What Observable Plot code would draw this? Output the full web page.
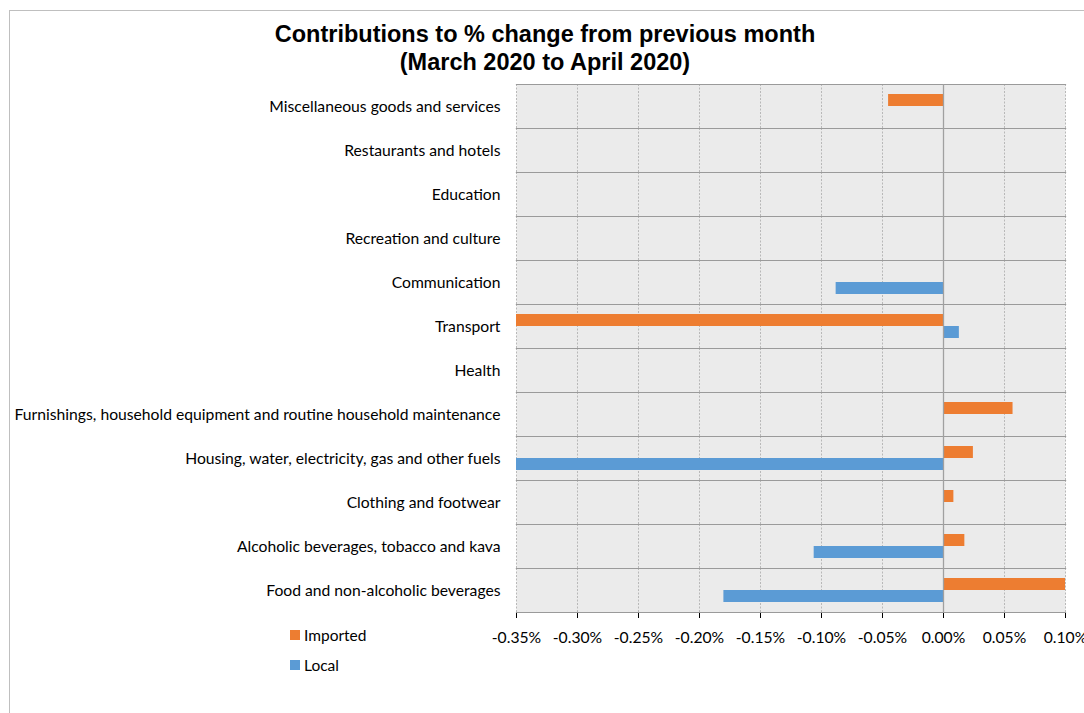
<!DOCTYPE html>
<html>
<head>
<meta charset="utf-8">
<script src="https://cdn.jsdelivr.net/npm/d3@7"></script>
<script src="https://cdn.jsdelivr.net/npm/@observablehq/plot@0.6"></script>
<style>
  html, body { margin: 0; padding: 0; background: #fff; }
  #wrap { position: relative; width: 1084px; height: 713px; overflow: hidden; font-family: Lato, "Liberation Sans", sans-serif; }
  #border { position: absolute; left: 9px; top: 10px; width: 1200px; height: 800px; border-left: 1px solid #bfbfbf; border-top: 1px solid #bfbfbf; }
  #title { position: absolute; left: 0; top: 20px; width: 1090px; text-align: center; font-family: "Liberation Sans", Arial, sans-serif; font-weight: bold; font-size: 23.5px; line-height: 28px; color: #000; }
  #chart { position: absolute; left: 0; top: 0; }
  #legend { position: absolute; left: 290px; top: 620px; font-family: Lato, sans-serif; font-size: 15.5px; color: #000; }
  .item { display: flex; align-items: center; height: 30px; }
  .sw { width: 10px; height: 10px; margin-right: 4px; }
</style>
</head>
<body>
<div id="wrap">
  <div id="border"></div>
  <div id="chart"></div>
  <div id="title">Contributions to % change from previous month<br>(March 2020 to April 2020)</div>
  <div id="legend"></div>
</div>
<script>
const categories = [
  "Miscellaneous goods and services",
  "Restaurants and hotels",
  "Education",
  "Recreation and culture",
  "Communication",
  "Transport",
  "Health",
  "Furnishings, household equipment and routine household maintenance",
  "Housing, water, electricity, gas and other fuels",
  "Clothing and footwear",
  "Alcoholic beverages, tobacco and kava",
  "Food and non-alcoholic beverages"
];
const series = ["Imported", "Local"];
const seriesColors = ["#ed7d31", "#5b9bd5"];
// values in percent (null = no bar)
const imported = [-0.045, null, null, null, null, -0.36, null, 0.057, 0.0245, 0.0085, 0.0175, 0.10];
const local    = [null, null, null, null, -0.088, 0.013, null, null, -0.36, null, -0.106, -0.18];
const xTicks = [-0.35, -0.30, -0.25, -0.20, -0.15, -0.10, -0.05, 0.00, 0.05, 0.10];

const rows = [];
categories.forEach((c, i) => {
  if (imported[i] != null) rows.push({category: c, series: "Imported", value: imported[i]});
  if (local[i] != null) rows.push({category: c, series: "Local", value: local[i]});
});
// one grid entry per category and tick, so that every facet is present
const grid = categories.flatMap(c => xTicks.map(t => ({category: c, tick: t})));

const plot = Plot.plot({
  width: 1084,
  height: 713,
  marginLeft: 516,
  marginRight: 19,
  marginTop: 80,
  marginBottom: 97,
  style: {fontFamily: "Lato, sans-serif", fontSize: "15.7px", color: "#000", background: "transparent"},
  x: {domain: [-0.35, 0.10], ticks: xTicks, tickFormat: d => d.toFixed(2) + "%", tickSize: 6, tickPadding: 13, label: null},
  y: {domain: series, paddingInner: 0, paddingOuter: 0.75, axis: null},
  fy: {domain: categories, padding: 0, label: null, tickSize: 0, tickPadding: 16},
  color: {domain: series, range: seriesColors},
  marks: [
    Plot.frame({fill: "#ebebeb", stroke: null}),
    Plot.ruleX(grid, {x: "tick", fy: "category", stroke: "#b8b8b8", strokeDasharray: "2,1.5", strokeWidth: 1}),
    Plot.frame({anchor: "top", stroke: "#9a9a9a", strokeWidth: 1.2}),
    Plot.frame({anchor: "bottom", stroke: "#9a9a9a", strokeWidth: 1.2}),
    Plot.barX(rows, {x: 0, x2: "value", y: "series", fy: "category", fill: "series", clip: true}),
    Plot.ruleX([0], {stroke: "#a0a0a0", strokeWidth: 1.3})
  ]
});
document.getElementById("chart").appendChild(plot);

const legend = document.getElementById("legend");
series.forEach((s, i) => {
  const d = document.createElement("div");
  d.className = "item";
  d.innerHTML = `<span class="sw" style="background:${seriesColors[i]}"></span><span>${s}</span>`;
  legend.appendChild(d);
});
</script>
</body>
</html>
